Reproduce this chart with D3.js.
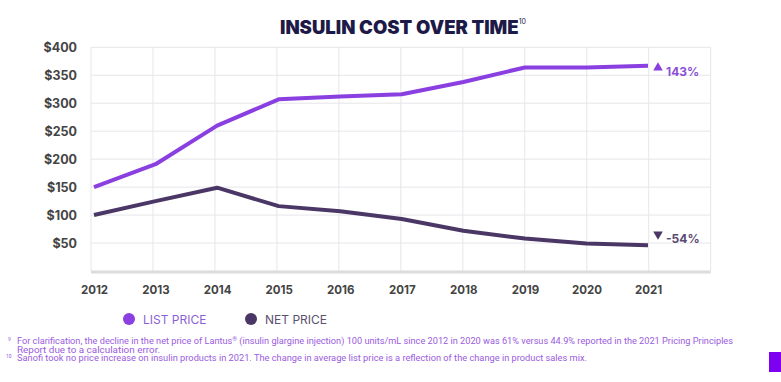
<!DOCTYPE html>
<html><head><meta charset="utf-8">
<script src="https://cdn.jsdelivr.net/npm/d3@7/dist/d3.min.js"></script>
<style>
html,body{margin:0;padding:0;background:#fff;}
svg{display:block;}
</style></head>
<body>
<svg id="chart" width="781" height="382"></svg>
<script>
const years = [2012,2013,2014,2015,2016,2017,2018,2019,2020,2021];
const listPrice = [150,191,260,307,312,316,338,364,364,367];
const netPrice = [100,125,149,116,107,93,72,58,49,46];
const yTicks = [50,100,150,200,250,300,350,400];
const seriesNames = ["LIST PRICE","NET PRICE"];
const changeLabels = ["143%","-54%"];
const title = "INSULIN COST OVER TIME";
const footnotes = [
  {sup:"9", parts:["For clarification, the decline in the net price of Lantus","®"," (insulin glargine injection) 100 units/mL since 2012 in 2020 was 61% versus 44.9% reported in the 2021 Pricing Principles"]},
  {sup:"", parts:["Report due to a calculation error."]},
  {sup:"10", parts:["Sanofi took no price increase on insulin products in 2021. The change in average list price is a reflection of the change in product sales mix."]}
];

const colList = "#8a3fe0", colNet = "#4b3766";
const svg = d3.select("#chart");

const x = d3.scalePoint().domain(years).range([94, 648]);
const y = d3.scaleLinear().domain([0, 400]).range([271, 47.3]);
const gx = d3.scaleLinear().domain([0, 10]).range([91, 710.7]);

// grid
const grid = svg.append("g");
grid.selectAll("line.h").data(yTicks).join("line")
  .attr("x1", gx(0)).attr("x2", gx(10))
  .attr("y1", d => y(d)).attr("y2", d => y(d))
  .attr("stroke", "#e6e6ea").attr("stroke-width", 1);
grid.selectAll("line.v").data(d3.range(0, 11)).join("line")
  .attr("x1", d => gx(d)).attr("x2", d => gx(d))
  .attr("y1", y(400)).attr("y2", y(0))
  .attr("stroke", "#e6e6ea").attr("stroke-width", 1);
grid.append("line").attr("x1", gx(0)).attr("x2", gx(10))
  .attr("y1", y(0) + 1).attr("y2", y(0) + 1)
  .attr("stroke", "#dcdcdf").attr("stroke-width", 3);

// y axis
const yAxis = d3.axisLeft(y).tickValues(yTicks).tickSize(0).tickPadding(0)
  .tickFormat(d => "$" + d);
const ya = svg.append("g").attr("transform", "translate(77,0)").call(yAxis);
ya.select(".domain").remove();
ya.selectAll("text").attr("font-family", "Inter, 'Open Sans', sans-serif")
  .attr("font-weight", 700).attr("font-size", 12.5).attr("fill", "#444");

// x axis
const xAxis = d3.axisBottom(x).tickSize(0).tickPadding(0).tickFormat(d3.format("d"));
const xa = svg.append("g").attr("transform", "translate(0,286)").call(xAxis);
xa.select(".domain").remove();
xa.selectAll("text").attr("font-family", "Inter, 'Open Sans', sans-serif")
  .attr("font-weight", 700).attr("font-size", 11.5).attr("fill", "#444");

// lines
const line = d3.line().x((d, i) => x(years[i])).y(d => y(d));
svg.append("path").datum(listPrice).attr("d", line)
  .attr("fill", "none").attr("stroke", colList).attr("stroke-width", 4).attr("stroke-linejoin", "round");
svg.append("path").datum(netPrice).attr("d", line)
  .attr("fill", "none").attr("stroke", colNet).attr("stroke-width", 4).attr("stroke-linejoin", "round");

// change annotations
const lastX = x(years[years.length - 1]);
svg.append("path").attr("d", d3.symbol(d3.symbolTriangle, 40)())
  .attr("transform", `translate(${lastX + 10},${y(listPrice[9]) + 2})`).attr("fill", colList);
svg.append("text").attr("x", lastX + 18).attr("y", y(listPrice[9]) + 10)
  .attr("font-family", "Inter, 'Open Sans', sans-serif").attr("font-weight", 700)
  .attr("font-size", 12).attr("fill", "#8a4fd6").text(changeLabels[0]);
svg.append("path").attr("d", d3.symbol(d3.symbolTriangle, 40)())
  .attr("transform", `translate(${lastX + 10},${y(netPrice[9]) - 11}) rotate(180)`).attr("fill", colNet);
svg.append("text").attr("x", lastX + 18).attr("y", y(netPrice[9]) - 2)
  .attr("font-family", "Inter, 'Open Sans', sans-serif").attr("font-weight", 700)
  .attr("font-size", 12).attr("fill", "#5a4a72").text(changeLabels[1]);

// title
const t = svg.append("text").attr("x", 280).attr("y", 34)
  .attr("font-family", "Inter, 'Open Sans', sans-serif").attr("font-weight", 900)
  .attr("font-size", 18.5).attr("fill", "#1d1a48");
t.append("tspan").text(title);
t.append("tspan").attr("font-size", 7).attr("dy", -10).attr("font-weight", 400).text("10");

// legend
const legend = [
  {name: seriesNames[0], c: colList, tc: "#8a5fd6", cx: 129},
  {name: seriesNames[1], c: colNet, tc: "#5c5070", cx: 251}
];
const lg = svg.append("g").selectAll("g").data(legend).join("g");
lg.append("circle").attr("cx", d => d.cx).attr("cy", 319).attr("r", 6).attr("fill", d => d.c);
lg.append("text").attr("x", d => d.cx + 14).attr("y", 324)
  .attr("font-family", "Inter, 'Open Sans', sans-serif").attr("font-size", 12)
  .attr("fill", d => d.tc).text(d => d.name);

// footnotes
const fnY = [344, 352.5, 361];
const fnLen = [716, 143, 570];
footnotes.forEach((f, i) => {
  if (f.sup) svg.append("text").attr("x", f.sup.length > 1 ? 6 : 8).attr("y", fnY[i] - 3)
    .attr("font-family", "Roboto, sans-serif").attr("font-size", 5)
    .attr("fill", "#9a5ce0").text(f.sup);
  const tx = svg.append("text").attr("x", 17).attr("y", fnY[i])
    .attr("font-family", "Roboto, 'Liberation Sans', sans-serif").attr("font-size", 8.3)
    .attr("fill", "#9a5ce0");
  if (fnLen[i]) tx.attr("textLength", fnLen[i]).attr("lengthAdjust", "spacingAndGlyphs");
  f.parts.forEach((p, j) => {
    const ts = tx.append("tspan").text(p);
    if (p === "®") { ts.attr("font-size", 5.5).attr("dy", -3.5); }
    else if (j > 0 && f.parts[j-1] === "®") { ts.attr("dy", 3.5); }
  });
});

// corner mark
svg.append("rect").attr("x", 769).attr("y", 352).attr("width", 12).attr("height", 20).attr("fill", "#7d00f0");
</script>
</body></html>
